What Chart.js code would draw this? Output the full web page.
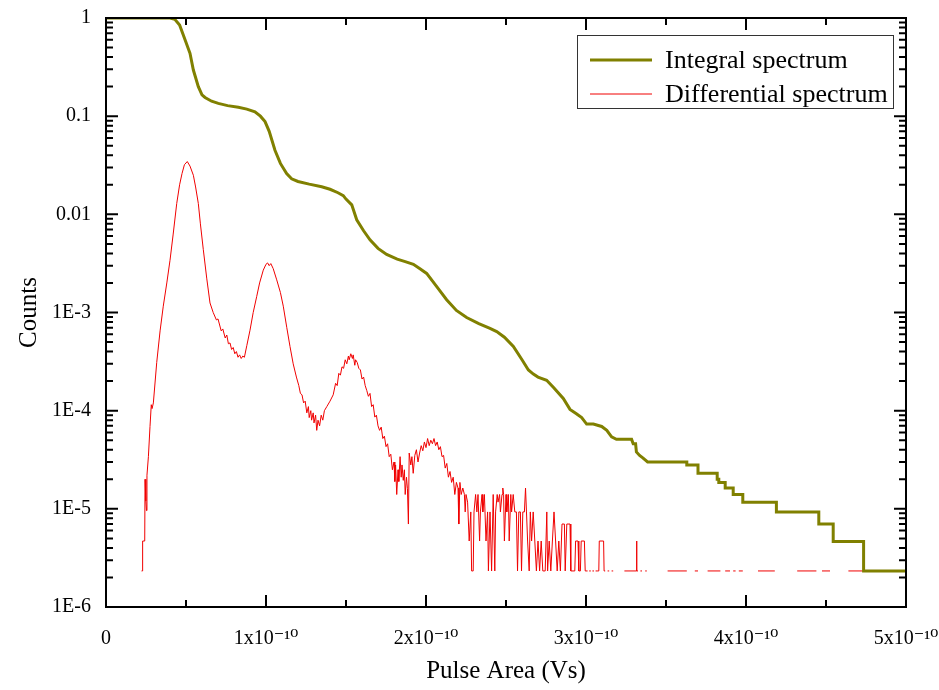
<!DOCTYPE html>
<html>
<head>
<meta charset="utf-8">
<title>Pulse area spectrum</title>
<script src="https://cdn.jsdelivr.net/npm/chart.js@4"></script>
<style>
  body { margin: 0; background: #fff; }
</style>
</head>
<body>
<canvas id="spectrum" width="939" height="690"></canvas>
<script>
// x values are in units of 1e-10 Vs
const xTickValues = [0, 1, 2, 3, 4, 5];
const xTickLabels = ['0', '1x10⁻¹⁰', '2x10⁻¹⁰', '3x10⁻¹⁰', '4x10⁻¹⁰', '5x10⁻¹⁰'];
const yTickValues = [1e-6, 1e-5, 1e-4, 1e-3, 0.01, 0.1, 1];
const yTickLabels = ['1E-6', '1E-5', '1E-4', '1E-3', '0.01', '0.1', '1'];

// integral spectrum
const intX = [
  0, 0.40, 0.43, 0.46, 0.494, 0.525, 0.546, 0.577, 0.60, 0.619,
  0.66, 0.702, 0.76, 0.827, 0.88, 0.931, 0.965, 0.994, 1.02, 1.056,
  1.09, 1.129, 1.16, 1.2, 1.27, 1.348, 1.40, 1.45, 1.483, 1.50, 1.536,
  1.567, 1.61, 1.65, 1.70, 1.754, 1.82, 1.87, 1.921, 1.96, 2.004,
  2.06, 2.129, 2.19, 2.254, 2.33, 2.40, 2.442, 2.49, 2.546, 2.60,
  2.64, 2.671, 2.70, 2.754, 2.80, 2.858, 2.90, 2.94, 2.973, 3.004,
  3.046, 3.098, 3.13, 3.16, 3.19, 3.285, 3.295, 3.31, 3.315, 3.335,
  3.355, 3.385, 3.63, 3.63, 3.70, 3.70, 3.82, 3.82, 3.83, 3.83,
  3.87, 3.87, 3.92, 3.92, 3.98, 3.98, 4.19, 4.19, 4.455, 4.455,
  4.545, 4.545, 4.735, 4.735, 5.0
];
const intY = [
  1, 1, 0.97, 0.85, 0.60, 0.437, 0.295, 0.20, 0.165, 0.155,
  0.142, 0.135, 0.128, 0.123, 0.118, 0.111, 0.10, 0.088, 0.07, 0.045,
  0.033, 0.026, 0.023, 0.0216, 0.0203, 0.0191, 0.018, 0.0166, 0.0155, 0.0143, 0.0125,
  0.0088, 0.0068, 0.0055, 0.0045, 0.0039, 0.0035, 0.0033, 0.0031, 0.0028, 0.0025,
  0.0019, 0.00135, 0.00105, 0.00089, 0.00077, 0.00069, 0.00064, 0.00056, 0.00045, 0.00033,
  0.00026, 0.000236, 0.00022, 0.000204, 0.00017, 0.000133, 0.000103, 9.3e-5, 8.5e-5, 7.3e-5,
  7.3e-5, 6.9e-5, 6.3e-5, 5.4e-5, 5.1e-5, 5.1e-5, 4.6e-5, 4.6e-5, 3.8e-5, 3.5e-5,
  3.3e-5, 3.0e-5, 3.0e-5, 2.8e-5, 2.8e-5, 2.3e-5, 2.3e-5, 2.0e-5, 2.0e-5, 1.86e-5,
  1.86e-5, 1.63e-5, 1.63e-5, 1.4e-5, 1.4e-5, 1.17e-5, 1.17e-5, 9.3e-6, 9.3e-6, 7.0e-6,
  7.0e-6, 4.66e-6, 4.66e-6, 2.33e-6, 2.33e-6
];

// differential spectrum (null = empty bin)
const diffX = [
  0.222, 0.228, 0.229, 0.242, 0.244, 0.249, 0.253, 0.256, 0.265, 0.275,
  0.283, 0.288, 0.296, 0.317, 0.338, 0.358, 0.38, 0.40, 0.42, 0.442,
  0.46, 0.475, 0.49, 0.508, 0.525, 0.546, 0.56, 0.577, 0.59, 0.608,
  0.63, 0.65, 0.67, 0.69, 0.70, 0.72, 0.73, 0.745, 0.755, 0.765,
  0.775, 0.785, 0.795, 0.805, 0.815, 0.825, 0.835, 0.845, 0.855, 0.865,
  0.88, 0.90, 0.92, 0.942, 0.96, 0.983, 1.00, 1.01, 1.02, 1.03,
  1.045, 1.067, 1.09, 1.108, 1.13, 1.15, 1.17, 1.19, 1.205, 1.215,
  1.225, 1.235, 1.245, 1.255, 1.265, 1.27, 1.28, 1.285, 1.295, 1.30,
  1.31, 1.317, 1.325, 1.335, 1.345, 1.355, 1.365, 1.38, 1.40, 1.42,
  1.435, 1.445, 1.455, 1.465, 1.475, 1.485, 1.495, 1.505, 1.515, 1.52,
  1.53, 1.54, 1.545, 1.555, 1.56, 1.57, 1.58, 1.59, 1.60, 1.61,
  1.62, 1.63, 1.64, 1.65, 1.66, 1.67, 1.68, 1.69, 1.70, 1.71,
  1.72, 1.73, 1.74, 1.75, 1.76, 1.77, 1.78, 1.79, 1.80, 1.805,
  1.81, 1.817, 1.825, 1.83, 1.838, 1.845, 1.85, 1.858, 1.865, 1.87,
  1.878, 1.884, 1.89, 1.895, 1.905, 1.912, 1.92, 1.93, 1.94, 1.95,
  1.96, 1.97, 1.98, 1.99, 2.00, 2.01, 2.02, 2.03, 2.04, 2.05,
  2.06, 2.07, 2.08, 2.09, 2.10, 2.11, 2.12, 2.13, 2.14, 2.15,
  2.16, 2.17, 2.18, 2.19, 2.20, 2.205, 2.212, 2.22, 2.23, 2.24,
  2.245, 2.25, 2.26, 2.27, 2.28, 2.285, 2.295, 2.30, 2.31, 2.318,
  2.325, 2.335, 2.34, 2.35, 2.355, 2.365, 2.375, 2.385, 2.39, 2.40,
  2.41, 2.42, 2.43, 2.435, 2.445, 2.45, 2.46, 2.465, 2.475, 2.48,
  2.485, 2.49, 2.50, 2.505, 2.515, 2.52, 2.53, 2.535, 2.545, 2.555,
  2.565, 2.572, 2.58, 2.59, 2.597, 2.605, 2.615, 2.622, 2.628, 2.635,
  2.645, 2.652, 2.66, 2.67, 2.68, 2.69, 2.70, 2.71, 2.72, 2.73,
  2.745, 2.755, 2.76, 2.77, 2.78, 2.79, 2.80, 2.81, 2.82, 2.83,
  2.84, 2.85, 2.865, 2.87, 2.88, 2.90, 2.905, 2.93, 2.935, 2.95,
  2.955, 2.965, 2.97, 2.99, 2.995, 3.01, 3.015, 3.02, 3.03, 3.035,
  3.04, 3.05, 3.055, 3.06, 3.07, 3.08, 3.083, 3.11, 3.113, 3.12,
  3.125, 3.135, 3.145, 3.15, 3.16, 3.17, 3.175, 3.24, 3.315, 3.316,
  3.318, 3.325, 3.33, 3.34, 3.35, 3.355, 3.37, 3.38, 3.385, 3.51,
  3.63, 3.635, 3.68, 3.70, 3.705, 3.76, 3.84, 3.845, 3.87, 3.90,
  3.905, 3.92, 3.935, 3.94, 3.955, 3.98, 3.985, 4.075, 4.18, 4.185,
  4.32, 4.44, 4.445, 4.475, 4.525, 4.53, 4.64, 4.79, 4.795, 4.86, 5.0
];
const diffY = [
  2.33e-6, 2.33e-6, 4.7e-6, 4.7e-6, 2.0e-5, 1.2e-5, 9.6e-6, 2.2e-5, 3.4e-5, 6.9e-5,
  1.15e-4, 1.05e-4, 1.2e-4, 3.1e-4, 6.5e-4, 1.16e-3, 2.0e-3, 3.4e-3, 6.3e-3, 1.29e-2,
  2.0e-2, 2.6e-2, 3.2e-2, 3.45e-2, 3.1e-2, 2.5e-2, 1.9e-2, 1.29e-2, 8.0e-3, 4.4e-3,
  2.2e-3, 1.25e-3, 1.0e-3, 8.4e-4, 8.6e-4, 6.5e-4, 6.8e-4, 5.5e-4, 5.9e-4, 4.8e-4,
  4.9e-4, 4.2e-4, 4.4e-4, 3.8e-4, 4.0e-4, 3.5e-4, 3.7e-4, 3.4e-4, 3.6e-4, 3.5e-4,
  4.6e-4, 6.6e-4, 1.0e-3, 1.46e-3, 2.0e-3, 2.7e-3, 3.1e-3, 3.2e-3, 3.0e-3, 3.15e-3,
  2.8e-3, 2.15e-3, 1.6e-3, 1.16e-3, 7.0e-4, 4.5e-4, 3.0e-4, 2.2e-4, 1.8e-4, 1.5e-4,
  1.45e-4, 1.2e-4, 1.25e-4, 9.5e-5, 1.1e-4, 8.5e-5, 1.0e-4, 8.0e-5, 9.5e-5, 7.5e-5,
  9.0e-5, 6.3e-5, 8.0e-5, 7.0e-5, 9.0e-5, 8.0e-5, 1.0e-4, 1.1e-4, 1.25e-4, 1.45e-4,
  1.9e-4, 1.8e-4, 2.4e-4, 2.3e-4, 2.8e-4, 2.7e-4, 3.3e-4, 3.0e-4, 3.6e-4, 3.3e-4,
  3.8e-4, 3.4e-4, 3.7e-4, 2.9e-4, 3.3e-4, 3.1e-4, 2.7e-4, 2.6e-4, 2.1e-4, 2.2e-4,
  1.8e-4, 1.6e-4, 1.4e-4, 1.5e-4, 1.1e-4, 1.15e-4, 8.6e-5, 9.0e-5, 7.0e-5, 6.3e-5,
  6.8e-5, 5.2e-5, 5.5e-5, 4.3e-5, 4.6e-5, 3.4e-5, 3.6e-5, 2.5e-5, 3.0e-5, 1.9e-5,
  2.8e-5, 1.4e-5, 2.5e-5, 1.9e-5, 3.4e-5, 2.1e-5, 2.8e-5, 1.95e-5, 2.5e-5, 1.4e-5,
  2.1e-5, 1.6e-5, 7.0e-6, 3.7e-5, 2.8e-5, 3.4e-5, 2.3e-5, 3.5e-5, 4.0e-5, 3.0e-5,
  3.7e-5, 4.4e-5, 3.9e-5, 4.8e-5, 4.2e-5, 5.2e-5, 4.4e-5, 5.0e-5, 4.6e-5, 5.2e-5,
  4.4e-5, 4.8e-5, 4.0e-5, 4.3e-5, 3.4e-5, 3.5e-5, 2.6e-5, 2.9e-5, 2.1e-5, 2.4e-5,
  1.86e-5, 2.1e-5, 1.4e-5, 1.86e-5, 1.63e-5, 7.0e-6, 1.86e-5, 1.4e-5, 1.63e-5, 1.4e-5,
  9.3e-6, 1.4e-5, 1.17e-5, 4.7e-6, 9.3e-6, 2.33e-6, 2.33e-6, 9.3e-6, 1.4e-5, 9.3e-6,
  1.4e-5, 4.7e-6, 9.3e-6, 1.4e-5, 9.3e-6, 1.4e-5, 4.7e-6, 9.3e-6, 2.33e-6, 9.3e-6,
  2.33e-6, 1.4e-5, 2.33e-6, 9.3e-6, 1.4e-5, 1.17e-5, 1.4e-5, 9.3e-6, 1.4e-5, 1.63e-5,
  1.4e-5, 4.7e-6, 1.4e-5, 9.3e-6, 1.4e-5, 4.7e-6, 1.4e-5, 9.3e-6, 1.4e-5, 9.3e-6,
  9.3e-6, 2.33e-6, 9.3e-6, 9.3e-6, 2.33e-6, 9.3e-6, 9.3e-6, 1.63e-5, 9.3e-6, 4.7e-6,
  2.33e-6, 9.3e-6, 4.7e-6, 9.3e-6, 4.7e-6, 2.33e-6, 4.7e-6, 2.33e-6, 4.7e-6, 2.33e-6,
  2.33e-6, 9.3e-6, 2.33e-6, 4.7e-6, 2.33e-6, 4.7e-6, 9.3e-6, 4.7e-6, 2.33e-6, 4.7e-6,
  2.33e-6, 7.0e-6, 7.0e-6, 2.33e-6, 7.0e-6, 7.0e-6, 2.33e-6, 2.33e-6, 4.7e-6, 4.7e-6,
  2.33e-6, 2.33e-6, 4.7e-6, 4.7e-6, 2.33e-6, 2.33e-6, null, 2.33e-6, 2.33e-6, null,
  2.33e-6, 2.33e-6, null, 2.33e-6, 2.33e-6, 2.33e-6, 4.7e-6, 4.7e-6, 2.33e-6, 2.33e-6,
  null, 2.33e-6, 2.33e-6, null, 2.33e-6, 2.33e-6, null, 2.33e-6, 2.33e-6, 4.7e-6,
  2.33e-6, 2.33e-6, null, 2.33e-6, 2.33e-6, null, 2.33e-6, 2.33e-6, null, 2.33e-6,
  2.33e-6, null, 2.33e-6, 2.33e-6, null, 2.33e-6, 2.33e-6, null, 2.33e-6, 2.33e-6,
  null, 2.33e-6, 2.33e-6, null, 2.33e-6, 2.33e-6, null, 2.33e-6, 2.33e-6, null,
  2.33e-6, 2.33e-6, null, 2.33e-6, 2.33e-6, null, 2.33e-6, 2.33e-6, null, 2.33e-6, 2.33e-6
];

const toPoints = (xs, ys) => xs.map((x, i) => ({ x: x, y: ys[i] }));

const serif = "'Liberation Serif', 'DejaVu Serif', serif";
Chart.defaults.font.family = serif;
Chart.defaults.color = '#000';

// box with inward tick marks on all four sides
const frame = {
  id: 'frame',
  afterDraw(chart) {
    const { ctx, chartArea: a, scales } = chart;
    const x = scales.x, y = scales.y;
    ctx.save();
    ctx.strokeStyle = '#000';
    ctx.lineWidth = 2;
    ctx.strokeRect(a.left, a.top, a.right - a.left, a.bottom - a.top);
    ctx.beginPath();
    xTickValues.forEach(v => {
      const p = x.getPixelForValue(v);
      ctx.moveTo(p, a.bottom); ctx.lineTo(p, a.bottom - 12);
      ctx.moveTo(p, a.top); ctx.lineTo(p, a.top + 12);
      if (v < 5) {
        const m = x.getPixelForValue(v + 0.5);
        ctx.moveTo(m, a.bottom); ctx.lineTo(m, a.bottom - 7);
        ctx.moveTo(m, a.top); ctx.lineTo(m, a.top + 7);
      }
    });
    yTickValues.forEach(v => {
      const p = y.getPixelForValue(v);
      ctx.moveTo(a.left, p); ctx.lineTo(a.left + 12, p);
      ctx.moveTo(a.right, p); ctx.lineTo(a.right - 12, p);
      if (v < 1) {
        for (let k = 2; k <= 9; k++) {
          const m = y.getPixelForValue(v * k);
          ctx.moveTo(a.left, m); ctx.lineTo(a.left + 7, m);
          ctx.moveTo(a.right, m); ctx.lineTo(a.right - 7, m);
        }
      }
    });
    ctx.stroke();
    ctx.restore();
  }
};

// framed legend in the upper right corner of the plot
const boxLegend = {
  id: 'boxLegend',
  afterDraw(chart) {
    const { ctx, chartArea: a } = chart;
    const w = 316, h = 73;
    const left = a.right - 13 - w, top = a.top + 17;
    ctx.save();
    ctx.fillStyle = '#fff';
    ctx.fillRect(left, top, w, h);
    ctx.strokeStyle = '#333';
    ctx.lineWidth = 1;
    ctx.strokeRect(left + 0.5, top + 0.5, w, h);
    ctx.font = '26px ' + serif;
    ctx.textBaseline = 'middle';
    chart.data.datasets.forEach((ds, i) => {
      const yy = top + 25 + i * 34;
      ctx.strokeStyle = ds.borderColor;
      ctx.lineWidth = ds.borderWidth;
      ctx.beginPath();
      ctx.moveTo(left + 13, yy);
      ctx.lineTo(left + 75, yy);
      ctx.stroke();
      ctx.fillStyle = '#000';
      ctx.fillText(ds.label, left + 88, yy + 1);
    });
    ctx.restore();
  }
};

new Chart(document.getElementById('spectrum'), {
  type: 'line',
  data: {
    datasets: [
      {
        label: 'Integral spectrum',
        data: toPoints(intX, intY),
        borderColor: '#808000',
        borderWidth: 3,
        pointRadius: 0,
        tension: 0
      },
      {
        label: 'Differential spectrum',
        data: toPoints(diffX, diffY),
        borderColor: '#f00000',
        borderWidth: 1,
        pointRadius: 0,
        tension: 0,
        spanGaps: false
      }
    ]
  },
  options: {
    responsive: false,
    animation: false,
    layout: { padding: { top: 18, right: 33, left: 0, bottom: 0 } },
    plugins: {
      legend: { display: false },
      tooltip: { enabled: false }
    },
    scales: {
      x: {
        type: 'linear',
        min: 0,
        max: 5,
        afterBuildTicks: s => { s.ticks = xTickValues.map(v => ({ value: v })); },
        afterFit: s => { s.height = 83; s.paddingLeft = 0; s.paddingRight = 0; },
        ticks: {
          autoSkip: false,
          maxRotation: 0,
          padding: 20,
          font: { size: 20 },
          callback: (v, i) => xTickLabels[i]
        },
        grid: { display: false, drawTicks: false },
        border: { display: false },
        title: {
          display: true,
          text: 'Pulse Area (Vs)',
          font: { size: 25 },
          padding: { top: 0, bottom: 4 }
        }
      },
      y: {
        type: 'logarithmic',
        min: 1e-6,
        max: 1,
        afterBuildTicks: s => { s.ticks = yTickValues.map(v => ({ value: v })); },
        afterFit: s => { s.width = 106; s.paddingTop = 0; s.paddingBottom = 0; },
        ticks: {
          autoSkip: false,
          padding: 15,
          font: { size: 20 },
          callback: (v, i) => yTickLabels[i]
        },
        grid: { display: false, drawTicks: false },
        border: { display: false },
        title: {
          display: true,
          text: 'Counts',
          font: { size: 25 },
          padding: { top: 14, bottom: 0 }
        }
      }
    }
  },
  plugins: [frame, boxLegend]
});
</script>
</body>
</html>
